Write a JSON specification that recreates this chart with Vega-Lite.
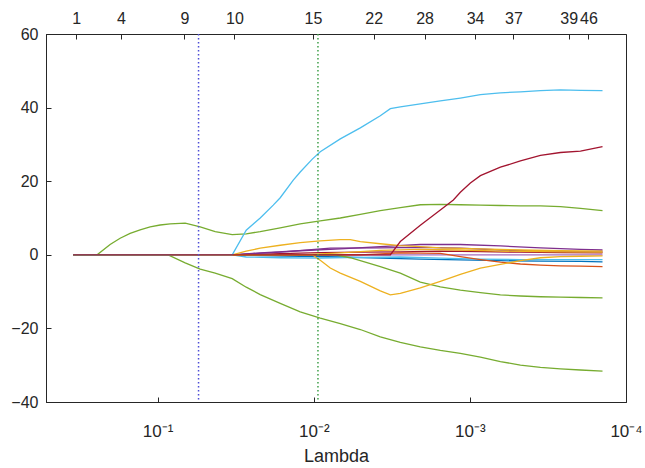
{
  "$schema": "https://vega.github.io/schema/vega-lite/v6.json",
  "width": 580,
  "height": 368,
  "autosize": {"type": "none"},
  "padding": {"left": 46, "top": 34, "right": 19, "bottom": 66},
  "background": "white",
  "config": {
    "view": {"stroke": "#262626", "strokeWidth": 1},
    "font": "Liberation Sans",
    "axis": {
      "labelFont": "Liberation Sans",
      "titleFont": "Liberation Sans",
      "labelColor": "#262626",
      "titleColor": "#262626",
      "domainColor": "#262626",
      "tickColor": "#262626",
      "labelFontSize": 16,
      "grid": false
    }
  },
  "layer": [
    {
      "data": {
        "values": [
          {"s": "z", "l": 0.348, "v": 0}, {"s": "z", "l": 0.0001414, "v": 0},

          {"s": "b1", "l": 0.348, "v": 0}, {"s": "b1", "l": 0.03329, "v": 0}, {"s": "b1", "l": 0.02203, "v": -0.2}, {"s": "b1", "l": 0.01221, "v": -0.4}, {"s": "b1", "l": 0.006763, "v": -0.6}, {"s": "b1", "l": 0.003748, "v": -0.9}, {"s": "b1", "l": 0.002077, "v": -1.2}, {"s": "b1", "l": 0.001151, "v": -1.4}, {"s": "b1", "l": 0.0006376, "v": -1.6}, {"s": "b1", "l": 0.0003532, "v": -1.7}, {"s": "b1", "l": 0.0001957, "v": -1.8}, {"s": "b1", "l": 0.0001414, "v": -1.9},

          {"s": "lb2", "l": 0.348, "v": 0}, {"s": "lb2", "l": 0.03329, "v": 0}, {"s": "lb2", "l": 0.02708, "v": -0.6}, {"s": "lb2", "l": 0.0164, "v": -0.8}, {"s": "lb2", "l": 0.009085, "v": -0.9}, {"s": "lb2", "l": 0.005033, "v": -0.7}, {"s": "lb2", "l": 0.00279, "v": -0.6}, {"s": "lb2", "l": 0.001546, "v": -0.9}, {"s": "lb2", "l": 0.0008565, "v": -1.2}, {"s": "lb2", "l": 0.0004746, "v": -1.3}, {"s": "lb2", "l": 0.000263, "v": -1.3}, {"s": "lb2", "l": 0.0001414, "v": -1.3},

          {"s": "dr2", "l": 0.348, "v": 0}, {"s": "dr2", "l": 0.03329, "v": 0}, {"s": "dr2", "l": 0.0164, "v": 0.3}, {"s": "dr2", "l": 0.009085, "v": 0.6}, {"s": "dr2", "l": 0.005033, "v": 0.7}, {"s": "dr2", "l": 0.00279, "v": 0.8}, {"s": "dr2", "l": 0.001546, "v": 1.0}, {"s": "dr2", "l": 0.0008565, "v": 0.9}, {"s": "dr2", "l": 0.0004746, "v": 0.7}, {"s": "dr2", "l": 0.000263, "v": 0.6}, {"s": "dr2", "l": 0.0001414, "v": 0.5},

          {"s": "p1", "l": 0.348, "v": 0}, {"s": "p1", "l": 0.03329, "v": 0}, {"s": "p1", "l": 0.02203, "v": 0.5}, {"s": "p1", "l": 0.01221, "v": 1.1}, {"s": "p1", "l": 0.006763, "v": 1.6}, {"s": "p1", "l": 0.003748, "v": 2.2}, {"s": "p1", "l": 0.002077, "v": 2.8}, {"s": "p1", "l": 0.001151, "v": 2.8}, {"s": "p1", "l": 0.0006376, "v": 2.4}, {"s": "p1", "l": 0.0003532, "v": 1.9}, {"s": "p1", "l": 0.0001957, "v": 1.5}, {"s": "p1", "l": 0.0001414, "v": 1.3},

          {"s": "p2", "l": 0.348, "v": 0}, {"s": "p2", "l": 0.03329, "v": 0}, {"s": "p2", "l": 0.0164, "v": 0.7}, {"s": "p2", "l": 0.007838, "v": 1.8}, {"s": "p2", "l": 0.003748, "v": 1.9}, {"s": "p2", "l": 0.002077, "v": 2.0}, {"s": "p2", "l": 0.001151, "v": 1.8}, {"s": "p2", "l": 0.0006376, "v": 1.3}, {"s": "p2", "l": 0.0003532, "v": 1.0}, {"s": "p2", "l": 0.0001414, "v": 0.8},

          {"s": "o3", "l": 0.348, "v": 0}, {"s": "o3", "l": 0.01221, "v": 0}, {"s": "o3", "l": 0.006763, "v": 0.5}, {"s": "o3", "l": 0.003748, "v": 1.2}, {"s": "o3", "l": 0.002077, "v": 1.5}, {"s": "o3", "l": 0.001151, "v": 1.3}, {"s": "o3", "l": 0.0006376, "v": 1.0}, {"s": "o3", "l": 0.000263, "v": 0.8}, {"s": "o3", "l": 0.0001414, "v": 0.7},

          {"s": "or1", "l": 0.348, "v": 0}, {"s": "or1", "l": 0.005033, "v": 0}, {"s": "or1", "l": 0.00279, "v": 0.5}, {"s": "or1", "l": 0.001546, "v": 0.4}, {"s": "or1", "l": 0.001151, "v": -0.5}, {"s": "or1", "l": 0.0008565, "v": -1.3}, {"s": "or1", "l": 0.0006376, "v": -2.0}, {"s": "or1", "l": 0.0004746, "v": -2.5}, {"s": "or1", "l": 0.0003532, "v": -2.8}, {"s": "or1", "l": 0.000263, "v": -3.0}, {"s": "or1", "l": 0.0001957, "v": -3.1}, {"s": "or1", "l": 0.0001414, "v": -3.2},

          {"s": "g3", "l": 0.348, "v": 0}, {"s": "g3", "l": 0.007283, "v": 0}, {"s": "g3", "l": 0.005834, "v": -0.8}, {"s": "g3", "l": 0.005033, "v": -1.6}, {"s": "g3", "l": 0.003748, "v": -3.2}, {"s": "g3", "l": 0.00279, "v": -5.0}, {"s": "g3", "l": 0.002077, "v": -7.4}, {"s": "g3", "l": 0.001546, "v": -8.7}, {"s": "g3", "l": 0.001151, "v": -9.6}, {"s": "g3", "l": 0.0008565, "v": -10.3}, {"s": "g3", "l": 0.0006376, "v": -10.9}, {"s": "g3", "l": 0.0004746, "v": -11.2}, {"s": "g3", "l": 0.0003532, "v": -11.4}, {"s": "g3", "l": 0.000263, "v": -11.5}, {"s": "g3", "l": 0.0001957, "v": -11.6}, {"s": "g3", "l": 0.0001414, "v": -11.7},

          {"s": "o2", "l": 0.348, "v": 0}, {"s": "o2", "l": 0.01022, "v": 0}, {"s": "o2", "l": 0.009085, "v": -1.5}, {"s": "o2", "l": 0.007838, "v": -3.6}, {"s": "o2", "l": 0.006763, "v": -5.0}, {"s": "o2", "l": 0.005033, "v": -7.2}, {"s": "o2", "l": 0.003748, "v": -9.8}, {"s": "o2", "l": 0.003232, "v": -10.9}, {"s": "o2", "l": 0.00279, "v": -10.5}, {"s": "o2", "l": 0.002077, "v": -9.0}, {"s": "o2", "l": 0.001546, "v": -7.2}, {"s": "o2", "l": 0.001151, "v": -5.3}, {"s": "o2", "l": 0.0008565, "v": -3.6}, {"s": "o2", "l": 0.0006376, "v": -2.6}, {"s": "o2", "l": 0.0004746, "v": -1.6}, {"s": "o2", "l": 0.0003532, "v": -0.8}, {"s": "o2", "l": 0.000263, "v": -0.5}, {"s": "o2", "l": 0.0001957, "v": -0.4}, {"s": "o2", "l": 0.0001414, "v": -0.3},

          {"s": "o1", "l": 0.348, "v": 0}, {"s": "o1", "l": 0.03329, "v": 0}, {"s": "o1", "l": 0.02708, "v": 1.0}, {"s": "o1", "l": 0.02203, "v": 1.8}, {"s": "o1", "l": 0.0164, "v": 2.6}, {"s": "o1", "l": 0.01221, "v": 3.3}, {"s": "o1", "l": 0.009085, "v": 3.8}, {"s": "o1", "l": 0.006763, "v": 4.1}, {"s": "o1", "l": 0.005834, "v": 4.1}, {"s": "o1", "l": 0.005033, "v": 3.6}, {"s": "o1", "l": 0.003748, "v": 3.0}, {"s": "o1", "l": 0.00279, "v": 2.5}, {"s": "o1", "l": 0.002077, "v": 2.2}, {"s": "o1", "l": 0.001546, "v": 1.9}, {"s": "o1", "l": 0.0008565, "v": 1.6}, {"s": "o1", "l": 0.0004746, "v": 1.3}, {"s": "o1", "l": 0.000263, "v": 1.1}, {"s": "o1", "l": 0.0001414, "v": 1.0},

          {"s": "g2", "l": 0.348, "v": 0}, {"s": "g2", "l": 0.08565, "v": 0}, {"s": "g2", "l": 0.06664, "v": -2.2}, {"s": "g2", "l": 0.0534, "v": -3.9}, {"s": "g2", "l": 0.0428, "v": -5.0}, {"s": "g2", "l": 0.03329, "v": -6.5}, {"s": "g2", "l": 0.02708, "v": -8.8}, {"s": "g2", "l": 0.02203, "v": -10.8}, {"s": "g2", "l": 0.0164, "v": -13.2}, {"s": "g2", "l": 0.01221, "v": -15.5}, {"s": "g2", "l": 0.009085, "v": -17.2}, {"s": "g2", "l": 0.006763, "v": -18.7}, {"s": "g2", "l": 0.005033, "v": -20.3}, {"s": "g2", "l": 0.003748, "v": -22.3}, {"s": "g2", "l": 0.00279, "v": -23.8}, {"s": "g2", "l": 0.002077, "v": -25.0}, {"s": "g2", "l": 0.001546, "v": -26.0}, {"s": "g2", "l": 0.001151, "v": -26.8}, {"s": "g2", "l": 0.0008565, "v": -27.8}, {"s": "g2", "l": 0.0006376, "v": -29.0}, {"s": "g2", "l": 0.0004746, "v": -30.0}, {"s": "g2", "l": 0.0003532, "v": -30.6}, {"s": "g2", "l": 0.000263, "v": -31.0}, {"s": "g2", "l": 0.0001957, "v": -31.3}, {"s": "g2", "l": 0.0001414, "v": -31.6},

          {"s": "g1", "l": 0.348, "v": 0}, {"s": "g1", "l": 0.2442, "v": 0}, {"s": "g1", "l": 0.2016, "v": 2.8}, {"s": "g1", "l": 0.1739, "v": 4.5}, {"s": "g1", "l": 0.1501, "v": 5.8}, {"s": "g1", "l": 0.1295, "v": 6.8}, {"s": "g1", "l": 0.1117, "v": 7.6}, {"s": "g1", "l": 0.09638, "v": 8.1}, {"s": "g1", "l": 0.08318, "v": 8.4}, {"s": "g1", "l": 0.06664, "v": 8.6}, {"s": "g1", "l": 0.0534, "v": 7.6}, {"s": "g1", "l": 0.0428, "v": 6.3}, {"s": "g1", "l": 0.03329, "v": 5.5}, {"s": "g1", "l": 0.02708, "v": 5.7}, {"s": "g1", "l": 0.02203, "v": 6.3}, {"s": "g1", "l": 0.0164, "v": 7.3}, {"s": "g1", "l": 0.01221, "v": 8.4}, {"s": "g1", "l": 0.009085, "v": 9.2}, {"s": "g1", "l": 0.006763, "v": 10.0}, {"s": "g1", "l": 0.005033, "v": 11.0}, {"s": "g1", "l": 0.003748, "v": 12.0}, {"s": "g1", "l": 0.00279, "v": 12.8}, {"s": "g1", "l": 0.002077, "v": 13.6}, {"s": "g1", "l": 0.001546, "v": 13.7}, {"s": "g1", "l": 0.001151, "v": 13.6}, {"s": "g1", "l": 0.0008565, "v": 13.5}, {"s": "g1", "l": 0.0006376, "v": 13.4}, {"s": "g1", "l": 0.0004746, "v": 13.3}, {"s": "g1", "l": 0.0003532, "v": 13.3}, {"s": "g1", "l": 0.000263, "v": 13.1}, {"s": "g1", "l": 0.0001957, "v": 12.6}, {"s": "g1", "l": 0.0001414, "v": 12.0},

          {"s": "lb1", "l": 0.348, "v": 0}, {"s": "lb1", "l": 0.03329, "v": 0}, {"s": "lb1", "l": 0.02708, "v": 6.7}, {"s": "lb1", "l": 0.02203, "v": 10.0}, {"s": "lb1", "l": 0.01818, "v": 13.5}, {"s": "lb1", "l": 0.0164, "v": 15.5}, {"s": "lb1", "l": 0.01353, "v": 20.3}, {"s": "lb1", "l": 0.01221, "v": 22.5}, {"s": "lb1", "l": 0.01022, "v": 26.0}, {"s": "lb1", "l": 0.009085, "v": 28.0}, {"s": "lb1", "l": 0.006763, "v": 31.5}, {"s": "lb1", "l": 0.005033, "v": 34.5}, {"s": "lb1", "l": 0.003748, "v": 37.8}, {"s": "lb1", "l": 0.003232, "v": 39.7}, {"s": "lb1", "l": 0.00279, "v": 40.2}, {"s": "lb1", "l": 0.002077, "v": 41.0}, {"s": "lb1", "l": 0.001546, "v": 41.8}, {"s": "lb1", "l": 0.001151, "v": 42.6}, {"s": "lb1", "l": 0.0008565, "v": 43.5}, {"s": "lb1", "l": 0.0006376, "v": 44.0}, {"s": "lb1", "l": 0.0004746, "v": 44.3}, {"s": "lb1", "l": 0.0003532, "v": 44.6}, {"s": "lb1", "l": 0.000263, "v": 44.8}, {"s": "lb1", "l": 0.0001957, "v": 44.7}, {"s": "lb1", "l": 0.0001414, "v": 44.6},

          {"s": "dr1", "l": 0.348, "v": 0}, {"s": "dr1", "l": 0.003232, "v": 0}, {"s": "dr1", "l": 0.00279, "v": 3.6}, {"s": "dr1", "l": 0.002077, "v": 8.0}, {"s": "dr1", "l": 0.001546, "v": 12.2}, {"s": "dr1", "l": 0.001276, "v": 14.9}, {"s": "dr1", "l": 0.001151, "v": 17.0}, {"s": "dr1", "l": 0.0009927, "v": 19.5}, {"s": "dr1", "l": 0.0008565, "v": 21.5}, {"s": "dr1", "l": 0.0006376, "v": 23.8}, {"s": "dr1", "l": 0.0004746, "v": 25.5}, {"s": "dr1", "l": 0.0003532, "v": 27.0}, {"s": "dr1", "l": 0.000263, "v": 27.8}, {"s": "dr1", "l": 0.0001957, "v": 28.2}, {"s": "dr1", "l": 0.0001414, "v": 29.4}
        ]
      },
      "mark": {"type": "line", "strokeWidth": 1.3, "clip": true},
      "encoding": {
        "x": {
          "field": "l",
          "type": "quantitative",
          "scale": {"type": "log", "domain": [0.0001, 0.519], "reverse": true, "nice": false},
          "axis": {
            "orient": "bottom",
            "values": [0.1, 0.01, 0.001, 0.0001],
            "labelExpr": "datum.value > 0.05 ? '10⁻¹' : datum.value > 0.005 ? '10⁻²' : datum.value > 0.0005 ? '10⁻³' : '10⁻⁴'",
            "tickSize": -5,
            "labelPadding": 26,
            "labelFontSize": 17,
            "labelOverlap": false,
            "labelFlush": false,
            "title": "Lambda",
            "titleFontSize": 18,
            "titleFontWeight": "normal",
            "titlePadding": 8
          }
        },
        "y": {
          "field": "v",
          "type": "quantitative",
          "scale": {"domain": [-40, 60], "nice": false},
          "axis": {
            "values": [-40, -20, 0, 20, 40, 60],
            "tickSize": -5,
            "labelPadding": 13,
            "labelFlush": false,
            "title": null
          }
        },
        "color": {
          "field": "s",
          "type": "nominal",
          "legend": null,
          "scale": {
            "domain": ["z", "b1", "lb2", "dr2", "p1", "p2", "o3", "or1", "g3", "o2", "o1", "g2", "g1", "lb1", "dr1"],
            "range": ["#a66bbd", "#0072BD", "#4DBEEE", "#A2142F", "#7E2F8E", "#7E2F8E", "#EDB120", "#D95319", "#77AC30", "#EDB120", "#EDB120", "#77AC30", "#77AC30", "#4DBEEE", "#A2142F"]
          }
        }
      }
    },
    {
      "data": {"values": [{"l": 0.0547, "c": "blue"}]},
      "mark": {"type": "rule", "color": "#4d4dd6", "strokeWidth": 1.5, "strokeDash": [1.5, 2.5]},
      "encoding": {
        "x": {"field": "l", "type": "quantitative", "axis": null}
      }
    },
    {
      "data": {"values": [{"l": 0.0094, "c": "green"}]},
      "mark": {"type": "rule", "color": "#3fa04a", "strokeWidth": 1.5, "strokeDash": [1.5, 2.5]},
      "encoding": {
        "x": {
          "field": "l",
          "type": "quantitative",
          "axis": {
            "orient": "top",
            "values": [0.332, 0.172, 0.0673, 0.0322, 0.01012, 0.00413, 0.00195, 0.000927, 0.000526, 0.000233, 0.000174],
            "labelExpr": "datum.value > 0.3 ? '1' : datum.value > 0.1 ? '4' : datum.value > 0.05 ? '9' : datum.value > 0.02 ? '10' : datum.value > 0.008 ? '15' : datum.value > 0.003 ? '22' : datum.value > 0.0015 ? '28' : datum.value > 0.0007 ? '34' : datum.value > 0.0004 ? '37' : datum.value > 0.0002 ? '39' : '46'",
            "tickSize": -5,
            "labelPadding": 13,
            "labelOverlap": false,
            "labelFlush": false,
            "title": null
          }
        }
      }
    }
  ],
  "resolve": {"axis": {"x": "independent"}}
}
